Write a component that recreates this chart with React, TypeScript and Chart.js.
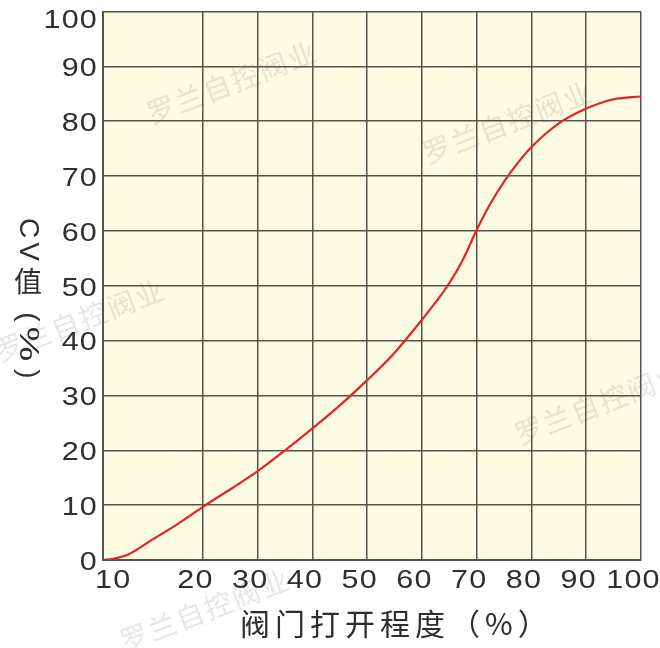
import React, { useEffect, useRef } from "react";
import { Chart, registerables } from "chart.js";

Chart.register(...registerables);

// ---- data (valve opening % vs CV %) ----
const OPENING = [10, 11, 12.5, 15, 17.5, 20, 25, 30, 35, 40, 45, 50, 55, 60, 62.5, 65, 67.5, 70, 72.5, 75, 77.5, 80, 85, 90, 95, 100];
const CV = [0, 0.2, 1.0, 3.8, 6.6, 9.7, 12.9, 16.2, 20.0, 24.0, 28.2, 32.8, 37.8, 43.8, 47.0, 50.5, 54.8, 60.2, 65.0, 69.0, 72.4, 75.3, 79.6, 82.3, 84.0, 84.5];

const X_TICKS = [10, 20, 30, 40, 50, 60, 70, 80, 90, 100];
const X_TICK_LABELS = ["10", "20", "30", "40", "50", "60", "70", "80", "90", "100"];
const Y_TICKS = [0, 10, 20, 30, 40, 50, 60, 70, 80, 90, 100];

const X_TITLE = "阀门打开程度（%）";
const Y_TITLE_GLYPHS = ["C", "V", "值", "(", "%", ")"];
const WATERMARK = "罗兰自控阀业";

// The 10–20 % interval is drawn wider than the other intervals on the axis.
const LOW_SEGMENT_STRETCH = 1.825;
const axisPos = (v: number) => (v >= 20 ? v : 20 - (20 - v) * LOW_SEGMENT_STRETCH);

const TICK_FONT = "'Liberation Sans', Arial, sans-serif";
const CJK_FONT = "'Noto Sans CJK SC', sans-serif";
const TEXT_COLOR = "#2e2e2e";
const GRID_COLOR = "#55544a";
const TEXT_STRETCH = 1.22;

const decor = {
  id: "decor",
  beforeDraw(chart: any) {
    const { ctx, chartArea: a } = chart;
    ctx.save();
    ctx.fillStyle = "#fefbe3";
    ctx.fillRect(a.left, a.top, a.right - a.left, a.bottom - a.top);
    // faint watermarks
    ctx.font = `28px ${CJK_FONT}`;
    ctx.fillStyle = "rgba(150,150,150,0.24)";
    ctx.letterSpacing = "2px";
    ctx.textAlign = "center";
    ctx.textBaseline = "middle";
    const spots = [
      [232, 82],
      [508, 122],
      [80, 320],
      [600, 403],
      [205, 610],
    ];
    for (const [x, y] of spots) {
      ctx.save();
      ctx.translate(x, y);
      ctx.rotate((-21 * Math.PI) / 180);
      ctx.fillText(WATERMARK, 0, 0);
      ctx.restore();
    }
    ctx.restore();
  },
  afterDraw(chart: any) {
    const { ctx, chartArea: a } = chart;
    const xs = chart.scales.x;
    const ys = chart.scales.y;
    ctx.save();
    ctx.fillStyle = TEXT_COLOR;
    ctx.letterSpacing = "1px";
    ctx.font = `25px ${TICK_FONT}`;
    ctx.textBaseline = "middle";
    // x tick labels
    X_TICKS.forEach((v, i) => {
      const px = xs.getPixelForValue(axisPos(v));
      ctx.save();
      if (i === 0) {
        ctx.translate(px - 8, a.bottom + 20.7);
        ctx.textAlign = "left";
      } else {
        ctx.translate(px - 7.5, a.bottom + 20.7);
        ctx.textAlign = "center";
      }
      ctx.scale(TEXT_STRETCH, 1);
      ctx.fillText(X_TICK_LABELS[i], 0, 0);
      ctx.restore();
    });
    // y tick labels
    Y_TICKS.forEach((v) => {
      const py = Math.max(ys.getPixelForValue(v) + 3, a.top + 10);
      ctx.save();
      ctx.translate(a.left - 5, py);
      ctx.textAlign = "right";
      ctx.scale(TEXT_STRETCH, 1);
      ctx.fillText(String(v), 0, 0);
      ctx.restore();
    });
    // x title
    ctx.font = `30px ${CJK_FONT}`;
    ctx.letterSpacing = "5px";
    ctx.textAlign = "left";
    ctx.textBaseline = "middle";
    ctx.fillText(X_TITLE, 240, 623.5);
    // y title (vertical, reading top to bottom)
    ctx.letterSpacing = "0px";
    const centers = [228, 251.5, 280, 317, 344, 374];
    const cx = 28;
    Y_TITLE_GLYPHS.forEach((g, i) => {
      const cy = centers[i];
      ctx.save();
      ctx.translate(cx, cy);
      ctx.textAlign = "center";
      ctx.textBaseline = "middle";
      if (g === "值") {
        ctx.font = `28px ${CJK_FONT}`;
        ctx.fillText(g, 0, 1);
      } else {
        ctx.rotate(Math.PI / 2);
        ctx.font = `28px ${TICK_FONT}`;
        if (g === "%") ctx.scale(1.4, 1);
        ctx.fillText(g, 0, 0);
      }
      ctx.restore();
    });
    ctx.restore();
  },
};

export default function App() {
  const ref = useRef<HTMLCanvasElement | null>(null);

  useEffect(() => {
    document.body.style.margin = "0";
    const canvas = ref.current;
    if (!canvas) return;
    const chart = new Chart(canvas, {
      type: "line",
      data: {
        datasets: [
          {
            data: OPENING.map((v, i) => ({ x: axisPos(v), y: CV[i] })),
            borderColor: "#e1232c",
            borderWidth: 2.2,
            pointRadius: 0,
            cubicInterpolationMode: "monotone",
            fill: false,
          },
        ],
      },
      options: {
        animation: false,
        responsive: true,
        maintainAspectRatio: false,
        layout: { padding: { top: 11.5, right: 19, left: 0, bottom: 0 } },
        plugins: { legend: { display: false }, tooltip: { enabled: false } },
        scales: {
          x: {
            type: "linear",
            min: axisPos(10),
            max: 100,
            afterBuildTicks: (scale: any) => {
              scale.ticks = X_TICKS.map((v) => ({ value: axisPos(v) }));
            },
            afterFit: (scale: any) => {
              scale.height = 88;
              scale.paddingLeft = 0;
              scale.paddingRight = 0;
            },
            ticks: { display: false, autoSkip: false },
            grid: { color: GRID_COLOR, lineWidth: 1.5, drawTicks: false },
            border: { color: GRID_COLOR, width: 2 },
          },
          y: {
            type: "linear",
            min: 0,
            max: 100,
            afterBuildTicks: (scale: any) => {
              scale.ticks = Y_TICKS.map((v) => ({ value: v }));
            },
            afterFit: (scale: any) => {
              scale.width = 103;
              scale.paddingTop = 0;
              scale.paddingBottom = 0;
            },
            ticks: { display: false },
            grid: { color: GRID_COLOR, lineWidth: 1.5, drawTicks: false },
            border: { color: GRID_COLOR, width: 2 },
          },
        },
      } as any,
      plugins: [decor as any],
    });
    return () => chart.destroy();
  }, []);

  return (
    <div style={{ width: 660, height: 648, position: "relative", background: "#fff" }}>
      <canvas ref={ref} />
    </div>
  );
}
